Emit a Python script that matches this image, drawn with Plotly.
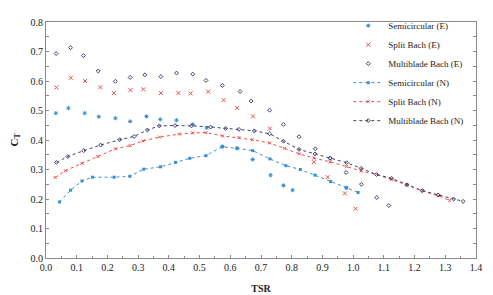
import plotly.graph_objects as go

semi_n_x = [0.044,0.080,0.117,0.151,0.222,0.273,0.318,0.373,0.422,0.468,0.521,0.573,0.622,0.673,0.729,0.781,0.828,0.876,0.927,0.979,1.016]
semi_n_y = [0.190,0.230,0.261,0.274,0.274,0.277,0.301,0.309,0.324,0.338,0.347,0.377,0.372,0.364,0.336,0.313,0.300,0.281,0.259,0.238,0.222]

split_n_x = [0.030,0.063,0.117,0.169,0.226,0.274,0.316,0.370,0.434,0.478,0.521,0.575,0.628,0.672,0.728,0.776,0.825,0.872,0.925,0.979,1.026,1.076,1.125,1.175,1.225,1.277,1.314]
split_n_y = [0.273,0.296,0.321,0.344,0.370,0.381,0.397,0.410,0.420,0.424,0.425,0.414,0.408,0.401,0.390,0.372,0.353,0.339,0.326,0.310,0.295,0.283,0.267,0.248,0.228,0.211,0.195]

multi_n_x = [0.034,0.071,0.123,0.178,0.240,0.287,0.330,0.369,0.420,0.474,0.536,0.585,0.628,0.678,0.728,0.773,0.824,0.876,0.925,0.979,1.026,1.076,1.125,1.175,1.225,1.277,1.327,1.358]
multi_n_y = [0.324,0.344,0.364,0.383,0.401,0.412,0.434,0.448,0.449,0.448,0.444,0.439,0.436,0.431,0.421,0.396,0.368,0.353,0.339,0.323,0.304,0.283,0.270,0.248,0.228,0.214,0.200,0.192]

semi_e_x = [0.032,0.073,0.126,0.172,0.226,0.274,0.327,0.372,0.425,0.478,0.523,0.575,0.622,0.673,0.731,0.773,0.803,0.977]
semi_e_y = [0.491,0.508,0.491,0.479,0.474,0.463,0.480,0.470,0.467,0.453,0.441,0.378,0.372,0.334,0.281,0.246,0.230,0.238]

split_e_x = [0.034,0.081,0.127,0.177,0.221,0.275,0.317,0.374,0.431,0.471,0.528,0.578,0.622,0.674,0.729,0.872,0.917,0.973,1.008]
split_e_y = [0.578,0.611,0.600,0.579,0.559,0.569,0.572,0.559,0.559,0.558,0.564,0.535,0.509,0.480,0.439,0.325,0.274,0.219,0.167]

multi_e_x = [0.033,0.080,0.122,0.170,0.226,0.274,0.322,0.374,0.425,0.478,0.521,0.574,0.632,0.668,0.728,0.773,0.824,0.877,0.925,0.977,1.027,1.077,1.116]
multi_e_y = [0.693,0.713,0.686,0.634,0.599,0.612,0.621,0.615,0.627,0.623,0.602,0.585,0.564,0.532,0.501,0.453,0.411,0.370,0.338,0.290,0.250,0.205,0.178]

BLUE = "#3a8fd0"
RED = "#e8504a"
NAVY = "#3b4170"
FONT = "Liberation Serif"

fig = go.Figure()

fig.add_trace(go.Scatter(x=semi_e_x, y=semi_e_y, mode="markers", name="Semicircular (E)",
                         marker=dict(symbol="asterisk-open", size=3.5, color=BLUE, line=dict(width=1, color=BLUE))))
fig.add_trace(go.Scatter(x=split_e_x, y=split_e_y, mode="markers", name="Split Bach (E)",
                         marker=dict(symbol="x-thin-open", size=4, color=RED, line=dict(width=1, color=RED))))
fig.add_trace(go.Scatter(x=multi_e_x, y=multi_e_y, mode="markers", name="Multiblade Bach (E)",
                         marker=dict(symbol="diamond-open", size=3, color=NAVY, line=dict(width=1, color=NAVY))))
fig.add_trace(go.Scatter(x=semi_n_x, y=semi_n_y, mode="lines+markers", name="Semicircular (N)",
                         line=dict(color=BLUE, width=1, dash="dot"),
                         marker=dict(symbol="square", size=3, color=BLUE)))
fig.add_trace(go.Scatter(x=split_n_x, y=split_n_y, mode="lines+markers", name="Split Bach (N)",
                         line=dict(color=RED, width=1, dash="dot"),
                         marker=dict(symbol="x-thin-open", size=3, color=RED, line=dict(width=1, color=RED))))
fig.add_trace(go.Scatter(x=multi_n_x, y=multi_n_y, mode="lines+markers", name="Multiblade Bach (N)",
                         line=dict(color=NAVY, width=1, dash="dot"),
                         marker=dict(symbol="diamond-open", size=3, color=NAVY, line=dict(width=1, color=NAVY))))

axis_line = "#8a8a8a"
fig.update_layout(
    width=485, height=287,
    margin=dict(l=33, r=17, t=3, b=35),
    plot_bgcolor="white", paper_bgcolor="white",
    font=dict(family=FONT, size=10, color="#222"),
    showlegend=True,
    legend=dict(x=0.703, y=1.046, xanchor="left", yanchor="top",
                bgcolor="rgba(0,0,0,0)", font=dict(family=FONT, size=9, color="#222"),
                tracegroupgap=0, itemwidth=30),
    xaxis=dict(range=[0, 1.4], dtick=0.1, tickformat=".1f", showgrid=False, zeroline=False,
               showline=True, linecolor=axis_line, linewidth=1, mirror=True,
               ticks="inside", ticklen=3, tickcolor=axis_line, ticklabeloverflow="allow",
               minor=dict(dtick=0.05, ticks="inside", ticklen=2, tickcolor=axis_line),
               title=dict(text="<b>TSR</b>", font=dict(family=FONT, size=10), standoff=12),
               tickfont=dict(family=FONT, size=10)),
    yaxis=dict(range=[0, 0.8], dtick=0.1, tickformat=".1f", showgrid=False, zeroline=False,
               showline=True, linecolor=axis_line, linewidth=1, mirror="allticks",
               ticks="inside", ticklen=3, tickcolor=axis_line,
               minor=dict(dtick=0.05, ticks="inside", ticklen=3, tickcolor=axis_line),
               title=dict(text="<b>C<sub>T</sub></b>", font=dict(family=FONT, size=11), standoff=12),
               tickfont=dict(family=FONT, size=10)),
)

fig.write_html("out.html")
